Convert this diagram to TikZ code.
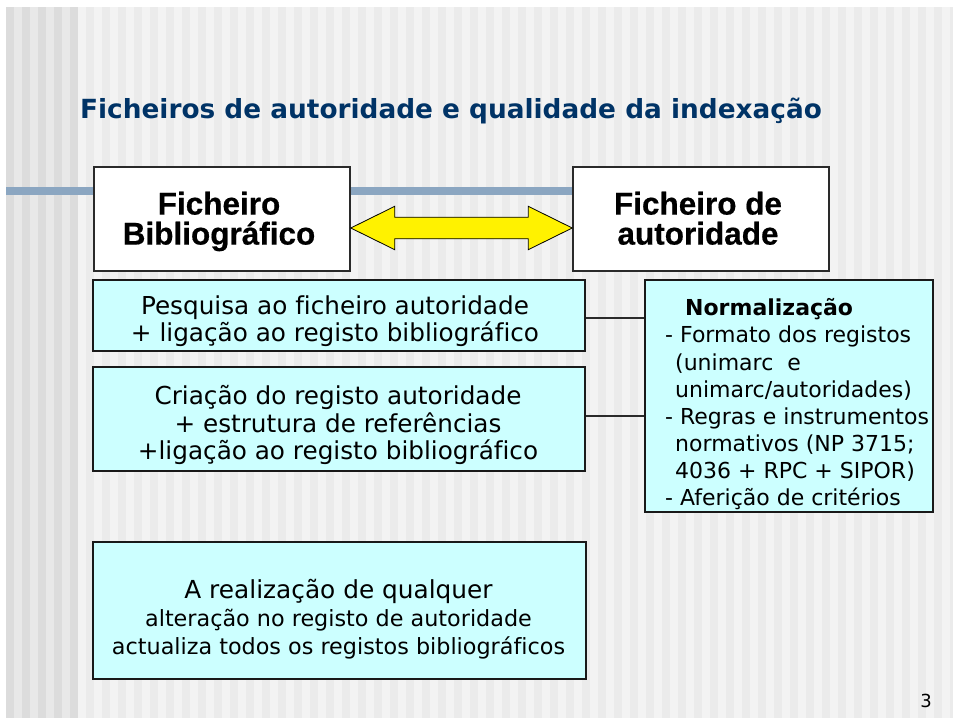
\documentclass[tikz,border=0pt]{standalone}
\usepackage{fontspec}
\setmainfont{DejaVu Sans}[Ligatures=NoCommon]
\newfontfamily\heavy{Liberation Sans}[BoldFeatures={FakeBold=0.5}, Ligatures=NoCommon]
\usetikzlibrary{calc}
\definecolor{stripeLd}{HTML}{DCDCDC}
\definecolor{stripeLl}{HTML}{E8E8E8}
\definecolor{stripeRd}{HTML}{EBEBEB}
\definecolor{stripeRl}{HTML}{F3F3F3}
\definecolor{barblue}{RGB}{139,166,193}
\definecolor{titleblue}{RGB}{0,51,102}
\definecolor{cyanfill}{HTML}{CCFFFF}
\definecolor{boxgray}{HTML}{2A2A2A}
\tikzset{
  whitebox/.style={draw=boxgray, line width=1.5pt, fill=white, minimum width=256, minimum height=104, inner sep=0pt},
  cyanbox/.style={draw=black!90, line width=1.3pt, fill=cyanfill, inner sep=0pt},
  boxtext/.style={inner sep=0pt, align=center},
  headtext/.style={inner sep=0pt, align=center, font=\heavy\bfseries\fontsize{31.5}{30}\selectfont},
  conn/.style={draw=boxgray, line width=1.3pt},
  dblarrow/.style={draw=black, line width=0.8pt, fill=yellow, line join=miter},
}
\begin{document}
\begin{tikzpicture}[x=1pt,y=1pt]
\useasboundingbox (0,0) rectangle (953,-718);
% background
\fill[white] (0,0) rectangle (953,-718);
\begin{scope}
\clip (6,-7) rectangle (953,-718);
\fill[stripeLl] (6,-7) rectangle (78,-718);
\foreach \k in {0,...,4} \fill[stripeLd] ({6+16*\k},-7) rectangle +(8,-711);
\fill[stripeRl] (78,-7) rectangle (953,-718);
\foreach \k in {0,...,54} \fill[stripeRd] ({86+16*\k},-7) rectangle +(8,-711);
\end{scope}
\fill[barblue] (6,-187) rectangle (575,-195);
% title
\node[anchor=base west, inner sep=0pt, text=titleblue, font=\bfseries\fontsize{26.35}{30}\selectfont] (title) at (80,-118)
  {Ficheiros de autoridade e qualidade da indexação};
% top boxes
\node[whitebox] (b1) at (222,-219) {};
\node[headtext] (b1t) at ($(b1.center)+(-3,-2.5)$) {Ficheiro\\Bibliográfico};
\node[whitebox] (b2) at (701,-219) {};
\node[headtext] (b2t) at ($(b2.center)+(-3,-2.5)$) {Ficheiro de\\autoridade\vphantom{g}};
% double arrow
\coordinate (aL) at ($(b1.east)+(0,-9)$);
\coordinate (aR) at ($(b2.west)+(0,-9)$);
\draw[dblarrow] (aL) -- ($(aL)+(44,21.7)$) -- ($(aL)+(44,10.8)$) -- ($(aR)+(-44,10.8)$) -- ($(aR)+(-44,21.7)$)
  -- (aR) -- ($(aR)+(-44,-21.7)$) -- ($(aR)+(-44,-10.8)$) -- ($(aL)+(44,-10.8)$) -- ($(aL)+(44,-21.7)$) -- cycle;
% cyan boxes
\node[cyanbox, minimum width=492, minimum height=71] (b3) at (339,-315.5) {};
\node[boxtext, font=\fontsize{24.7}{27.4}\selectfont] (b3t) at ($(b3.center)+(-4,-5.5)$)
  {Pesquisa ao ficheiro autoridade\\+ ligação ao registo bibliográfico};
\node[cyanbox, minimum width=492, minimum height=104] (b4) at (339,-419) {};
\node[boxtext, font=\fontsize{24.7}{27.5}\selectfont] (b4t) at ($(b4.center)+(-1,-6)$)
  {Criação do registo autoridade\\+ estrutura de referências\\+ligação ao registo bibliográfico};
\node[cyanbox, minimum width=288, minimum height=232] (norm) at (789,-396) {};
\node[anchor=north west, inner sep=0pt, align=left, font=\fontsize{22}{27.1}\selectfont] (normtxt) at (665,-298.5)
  {\hspace*{20pt}\textbf{Normalização}\\
   - Formato dos registos\\
   \hspace*{10pt}(unimarc\ \ e\\
   \hspace*{10pt}unimarc/autoridades)\\
   - Regras e instrumentos\\
   \hspace*{10pt}normativos (NP 3715;\\
   \hspace*{10pt}4036 + RPC + SIPOR)\\
   - Aferição de critérios};
\node[cyanbox, minimum width=493, minimum height=137] (b6) at (339.5,-610.5) {};
\node[boxtext, font=\fontsize{22.3}{28}\selectfont] (b6t) at ($(b6.center)+(-1,-8.5)$)
  {{\fontsize{24.8}{28}\selectfont A realização de qualquer}\\alteração no registo de autoridade\\actualiza todos os registos bibliográficos};
% connectors
\coordinate (c3) at ($(b3.east)+(0,-2.5)$);
\coordinate (c4) at ($(b4.east)+(0,3)$);
\draw[conn] (c3) -- (c3 -| norm.west);
\draw[conn] (c4) -- (c4 -| norm.west);
% page number
\node[anchor=base east, inner sep=0pt, font=\fontsize{18}{21}\selectfont] (pnum) at (932,-707) {3};
\end{tikzpicture}
\end{document}
